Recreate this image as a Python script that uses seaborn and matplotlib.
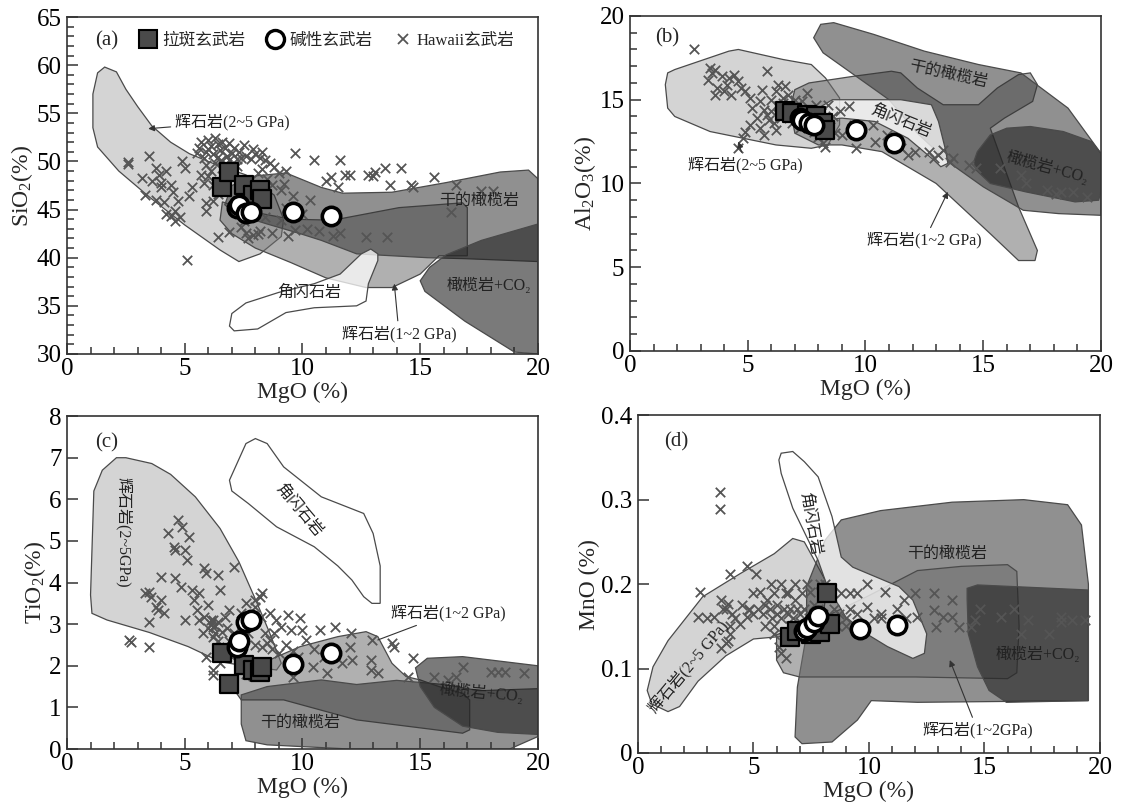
import matplotlib
matplotlib.use('Agg')
import matplotlib.pyplot as plt
from matplotlib.lines import Line2D
from matplotlib.ticker import MultipleLocator, FixedLocator, FixedFormatter
import pandas as pd
import seaborn as sns

sns.set_style('ticks')
FAM = ['Liberation Serif', 'Noto Sans CJK SC', 'DejaVu Sans']
plt.rcParams['font.family'] = FAM
plt.rcParams['mathtext.fontset'] = 'custom'
plt.rcParams['mathtext.rm'] = 'Liberation Serif'
plt.rcParams['mathtext.it'] = 'Liberation Serif:italic'
plt.rcParams['axes.unicode_minus'] = False

# ---------------- sample data ----------------
mgo_tholeiite = [6.6, 6.9, 7.5, 7.9, 8.2, 8.3]
sio2_tholeiite = [47.3, 48.9, 47.5, 46.5, 47.0, 46.1]
al2o3_tholeiite = [14.3, 14.2, 14.1, 14.0, 13.6, 13.2]
tio2_tholeiite = [2.30, 1.57, 2.02, 1.90, 1.86, 1.98]
mno_tholeiite = [0.137, 0.145, 0.141, 0.143, 0.189, 0.153]

mgo_alkali = [7.2, 7.3, 7.6, 7.8, 9.6, 11.2]
sio2_alkali = [45.2, 45.5, 44.6, 44.7, 44.7, 44.3]
al2o3_alkali = [13.9, 13.8, 13.6, 13.5, 13.2, 12.4]
tio2_alkali = [2.45, 2.60, 3.05, 3.10, 2.05, 2.30]
mno_alkali = [0.145, 0.148, 0.155, 0.162, 0.147, 0.151]

hawaii_a = [(2.6,49.9),(2.6,49.7),(3.2,48.3),(3.3,46.5),(3.5,50.6),(3.6,48.0),(3.8,49.3),(3.9,48.6),
            (4.0,47.8),(4.0,47.3),(3.8,46.0),(4.1,45.8),(4.2,44.5),(4.4,44.3),(4.6,44.8),(4.6,43.8),
            (4.8,44.2),(4.7,45.9),(4.5,46.8),(4.9,50.0),(5.0,49.3),(5.2,46.4),(5.3,47.3),(5.1,39.8),
            (4.4,47.5),(4.2,49.0),(5.6,51.4),(5.7,52.0),(5.8,50.4),(5.9,51.0),(6.0,52.2),(6.1,51.6),
            (6.2,50.8),(6.3,52.4),(6.4,51.8),(6.5,51.2),(6.6,52.0),(6.7,51.4),(6.8,50.6),(6.9,51.9),
            (7.0,50.9),(7.1,51.4),(7.2,50.2),(7.3,51.0),(7.4,50.4),(5.9,49.6),(6.1,49.0),(6.3,49.8),
            (6.5,50.0),(6.0,48.5),(5.7,48.6),(5.8,47.8),(6.2,47.5),(6.4,46.6),(6.6,49.3),(6.8,49.6),
            (7.2,49.5),(7.6,50.6),(7.8,50.2),(7.9,51.3),(8.0,50.8),(8.2,50.4),(8.4,50.1),(8.6,49.8),
            (8.8,49.4),(9.0,48.8),(9.3,49.0),(8.3,49.2),(8.1,48.8),(8.5,48.2),(8.7,47.6),(9.1,47.0),
            (9.2,47.7),(5.9,45.7),(6.2,45.9),(5.9,44.8),(6.4,42.1),(6.9,42.7),(7.4,43.2),(7.6,42.6),
            (7.7,42.0),(7.9,42.4),(8.1,42.5),(8.2,42.8),(8.7,42.6),(9.1,43.9),(9.4,42.3),(9.7,42.9),
            (10.2,43.0),(10.7,42.8),(11.3,42.3),(11.6,42.6),(12.7,42.2),(13.6,42.2),(7.5,43.8),(7.3,44.8),
            (8.4,44.2),(9.7,50.9),(9.6,46.4),(10.3,46.0),(10.5,50.1),(11.0,48.0),(11.2,48.4),(11.5,47.3),
            (11.6,50.1),(11.8,48.6),(12.0,48.6),(12.8,48.6),(13.0,48.5),(13.1,48.9),(13.5,49.3),(14.2,49.3),
            (13.7,47.6),(14.6,47.5),(14.7,47.3),(15.6,48.4),(16.3,44.7),(16.5,47.6),(17.6,46.9),(18.1,46.9),
            (9.3,45.2),(10.0,44.5),(5.5,50.9),(6.0,51.3),(6.4,50.5),(6.9,50.1),(7.5,51.7),(8.3,51.0)]

hawaii_b = [(2.7,18.0),(3.4,16.9),(3.5,16.6),(3.3,16.2),(3.6,16.8),(3.9,16.4),(4.2,16.3),(3.7,15.7),
            (4.0,15.5),(4.3,15.3),(4.6,16.1),(4.7,15.7),(4.9,15.5),(5.1,15.1),(5.2,14.5),(5.5,14.9),
            (5.8,16.7),(5.8,14.1),(6.2,15.5),(6.5,15.1),(3.6,15.3),(4.1,15.9),(4.4,16.5),(4.6,12.1),
            (4.8,12.7),(4.9,13.1),(5.1,13.5),(5.5,13.3),(5.7,12.9),(5.4,13.9),(5.7,14.4),(5.9,13.8),
            (6.0,15.0),(6.0,14.3),(6.1,13.6),(6.3,14.6),(6.4,13.9),(6.5,14.8),(6.6,15.8),(6.7,15.3),
            (6.8,14.6),(6.9,13.6),(7.0,15.0),(7.1,14.7),(7.2,13.3),(7.3,14.9),(7.5,15.4),(7.6,14.4),
            (7.8,13.1),(7.9,14.7),(8.0,12.8),(8.1,14.2),(8.2,12.4),(8.3,12.2),(8.5,13.4),(8.6,14.0),
            (8.7,13.0),(8.9,14.3),(9.0,12.9),(9.3,14.6),(9.5,13.5),(9.6,12.1),(10.3,13.5),(10.4,12.5),
            (10.9,12.9),(11.5,12.1),(11.8,11.7),(12.1,11.9),(12.7,11.9),(13.1,11.7),(13.6,11.3),(13.7,11.5),
            (14.4,11.1),(14.7,10.9),(15.7,10.9),(16.6,10.5),(16.8,10.0),(17.7,9.6),(18.1,9.4),(18.3,9.5),
            (18.8,9.5),(19.4,9.2),(6.2,13.2),(5.6,15.6),(6.3,15.9),(7.7,13.9),(8.4,14.7),(12.9,11.5),
            (13.3,12.0)]

hawaii_c = [(2.65,2.62),(2.7,2.58),(3.5,2.46),(3.3,3.74),(3.5,3.78),(3.56,3.66),(3.5,3.06),(3.8,3.42),
            (3.86,3.34),(4.0,4.14),(4.1,3.26),(4.0,3.58),(4.3,5.18),(4.55,4.86),(4.6,4.78),(4.7,5.5),
            (4.9,5.34),(4.6,4.1),(4.85,3.9),(5.0,4.78),(5.1,4.54),(5.2,5.1),(5.0,3.1),(5.3,3.82),
            (5.4,3.58),(5.6,3.74),(5.8,4.34),(5.9,4.22),(6.0,3.46),(5.5,3.34),(5.6,3.1),(5.8,3.18),
            (6.1,3.1),(6.2,2.94),(6.3,2.78),(6.4,4.18),(6.5,3.82),(5.76,2.78),(5.9,2.22),(6.2,1.9),
            (6.2,1.78),(6.5,2.06),(6.8,2.46),(6.7,3.18),(6.9,3.34),(7.1,4.38),(7.1,2.78),(7.4,3.26),
            (7.6,3.5),(7.7,2.78),(8.0,3.42),(8.0,3.58),(8.2,3.66),(8.3,3.74),(8.26,3.18),(8.4,2.78),
            (8.6,2.62),(8.6,3.26),(8.8,2.78),(8.86,3.1),(9.1,2.94),(9.4,3.22),(9.5,2.86),(9.9,3.14),
            (10.0,2.86),(9.6,1.74),(10.15,2.62),(10.45,1.98),(10.76,2.86),(10.9,2.22),(11.06,1.82),(11.4,2.94),
            (11.7,2.06),(12.0,2.46),(12.05,2.78),(12.1,2.14),(12.9,2.14),(12.9,1.9),(12.95,2.62),(13.2,1.82),
            (13.8,2.54),(13.9,2.46),(14.7,2.18),(14.5,1.74),(15.6,1.74),(16.2,1.66),(16.5,1.74),(16.8,1.98),
            (18.0,1.86),(18.3,1.86),(18.6,1.86),(19.4,1.82),(6.0,2.9),(6.1,3.0),(6.2,3.1),(6.3,2.95),
            (6.4,3.05),(6.2,2.7),(6.4,2.6),(6.6,2.8),(6.8,2.9),(6.9,2.6),(7.0,2.2),(7.2,2.4),
            (7.3,2.0),(7.6,1.8),(7.9,1.75),(8.0,2.5),(8.3,2.45),(8.5,2.55),(8.7,2.4),(9.0,2.3),
            (9.3,2.5),(9.6,2.35),(9.8,2.2),(10.5,2.4)]

hawaii_d = [(3.54,0.309),(3.54,0.289),(2.7,0.191),(2.6,0.161),(4.0,0.212),(4.7,0.222),(5.1,0.212),(3.3,0.161),
            (3.6,0.181),(3.7,0.171),(3.9,0.177),(4.05,0.165),(4.0,0.141),(3.6,0.124),(3.9,0.133),(4.4,0.153),
            (4.7,0.161),(4.8,0.169),(5.0,0.189),(5.3,0.191),(5.6,0.181),(5.75,0.200),(5.9,0.189),(6.2,0.200),
            (6.4,0.189),(5.9,0.141),(6.1,0.126),(6.2,0.118),(6.4,0.112),(6.8,0.181),(7.1,0.189),(7.45,0.191),
            (8.1,0.200),(8.4,0.191),(8.8,0.189),(9.2,0.189),(9.5,0.189),(9.9,0.200),(9.9,0.173),(10.5,0.165),
            (10.7,0.191),(11.5,0.181),(12.0,0.189),(12.1,0.161),(12.8,0.189),(12.8,0.169),(12.9,0.149),(13.2,0.161),
            (13.6,0.181),(13.6,0.161),(13.9,0.149),(14.4,0.149),(14.6,0.157),(14.8,0.171),(15.7,0.161),(16.3,0.171),
            (16.6,0.141),(16.9,0.157),(17.8,0.141),(18.3,0.155),(18.3,0.161),(18.8,0.157),(19.35,0.157),
            (4.5,0.175),(4.8,0.170),(5.0,0.165),(5.2,0.170),(5.4,0.165),(5.5,0.175),(5.7,0.170),(5.8,0.160),
            (6.0,0.175),(6.0,0.165),(6.2,0.160),(6.3,0.170),(6.5,0.165),(6.6,0.170),(6.7,0.160),(6.9,0.170),
            (7.0,0.165),(7.2,0.170),(7.4,0.160),(7.6,0.175),(7.8,0.170),(8.0,0.165),(8.2,0.160),(8.5,0.170),
            (8.7,0.165),(9.0,0.160),(9.2,0.170),(9.5,0.165),(10.2,0.160),(10.5,0.160),(11.2,0.170),(11.6,0.160),
            (3.0,0.160),(3.8,0.170),(4.2,0.160),(4.0,0.150),(5.5,0.150),(5.9,0.150),(6.3,0.140),(6.6,0.150),
            (7.0,0.155),(8.6,0.150),(9.0,0.150),(3.8,0.130),(6.8,0.200),(7.3,0.200),(7.9,0.200),(6.5,0.190)]

# ---------------- field outlines (MgO, oxide) ----------------
a_px25 = [(1.6,59.8),(2.1,59.3),(2.5,57.5),(3.0,55.7),(3.6,53.7),(4.4,52.0),(5.2,50.8),(6.2,49.8),(7.6,48.6),
          (8.8,46.5),(9.2,44.0),(9.1,42.2),(8.2,40.4),(7.3,39.6),(6.5,40.8),(5.0,43.4),(3.5,46.3),(2.2,49.0),
          (1.3,51.5),(1.1,53.5),(1.1,57.0),(1.3,59.2)]
a_px12 = [(6.6,45.8),(7.8,44.8),(9.5,44.0),(11.3,43.9),(14.1,45.2),(16.8,45.7),(17.0,45.2),(17.0,40.2),
          (15.8,40.2),(15.0,38.3),(13.8,36.9),(12.7,36.9),(11.0,37.9),(9.5,39.5),(8.0,41.0),(7.0,42.5),(6.5,43.9)]
a_dry = [(7.0,47.5),(8.0,48.5),(9.3,48.8),(10.8,47.3),(11.7,46.7),(13.8,46.8),(16.1,47.8),(18.4,48.9),
         (19.6,49.1),(20.0,48.2),(20.0,39.6),(16.9,39.9),(15.3,40.0),(12.3,40.4),(10.8,41.8),(9.9,42.5),
         (8.5,43.5),(7.2,44.5),(6.7,45.5)]
a_co2 = [(15.0,37.6),(15.4,39.0),(16.1,40.3),(17.6,41.8),(20.0,43.5),(20.0,30.0),(19.0,30.2),(16.9,33.4),(15.2,36.5)]
a_hbl = [(7.0,34.2),(6.9,32.9),(7.1,32.4),(8.1,32.6),(9.3,34.3),(10.5,34.8),(12.3,35.0),(12.7,35.5),(12.8,37.3),
         (13.2,39.7),(13.2,40.4),(12.9,40.9),(12.5,40.4),(11.6,38.3),(10.5,37.3),(9.0,36.4),(7.6,35.3)]

b_px25 = [(1.9,16.8),(4.2,17.9),(4.6,18.0),(6.5,17.4),(7.7,17.1),(8.3,16.3),(8.9,15.1),(8.9,13.5),(8.4,12.3),
          (7.7,12.1),(6.2,12.3),(3.4,13.1),(1.9,14.0),(1.6,14.5),(1.5,15.9),(1.6,16.6)]
b_dry = [(7.8,18.7),(8.1,19.5),(8.65,19.6),(10.35,18.9),(12.5,17.9),(14.8,17.1),(16.6,16.6),(18.6,14.5),
         (20.0,11.8),(20.0,8.1),(18.2,8.2),(16.7,8.4),(15.0,9.8),(13.5,11.3),(12.2,13.0),(11.0,15.0),
         (9.5,16.5),(8.2,17.8)]
b_px12 = [(6.8,14.5),(7.0,15.6),(7.6,16.0),(9.5,16.4),(11.1,16.7),(11.5,16.6),(12.2,15.7),(13.3,14.7),
          (14.8,14.7),(15.6,15.7),(16.5,16.5),(17.0,16.6),(17.3,15.9),(17.1,14.9),(15.9,13.9),(15.3,13.3),
          (16.5,8.6),(17.3,6.0),(17.2,5.4),(16.5,5.4),(15.3,7.0),(13.0,10.0),(10.7,11.9),(9.0,12.3),
          (8.0,12.3),(7.0,13.0)]
b_co2 = [(14.75,11.9),(15.3,12.9),(16.0,13.3),(17.0,13.4),(18.4,13.1),(19.6,12.5),(20.0,11.8),(20.0,9.5),
         (19.9,9.0),(18.9,8.9),(16.8,9.5),(15.3,10.0),(14.7,10.8),(14.6,11.3)]
b_hbl = [(8.0,14.5),(8.6,15.0),(11.5,15.0),(12.8,14.7),(13.1,13.7),(13.4,12.0),(13.5,11.2),(13.2,11.0),
         (12.9,11.4),(11.8,12.7),(10.4,13.7),(9.0,13.9),(8.2,13.8)]

c_px25 = [(2.1,7.0),(2.5,7.0),(3.6,6.86),(4.4,6.6),(5.45,6.06),(6.5,5.3),(7.3,4.5),(8.0,3.6),(8.6,2.8),
          (9.1,2.06),(8.9,1.9),(7.7,1.98),(6.5,2.1),(5.15,2.46),(3.5,2.8),(1.7,3.1),(1.06,3.26),(1.0,3.7),
          (1.14,6.2),(1.5,6.7)]
c_px12 = [(7.0,1.5),(7.2,2.0),(8.6,2.14),(9.9,2.46),(11.5,2.7),(12.7,2.82),(13.2,2.7),(13.8,2.06),
          (14.4,1.74),(15.0,1.66),(15.8,1.5),(16.8,1.34),(17.1,1.18),(17.1,0.46),(16.8,0.38),(12.3,0.7),
          (9.2,1.18),(7.4,1.18)]
c_dry = [(7.4,1.3),(8.5,1.5),(10.8,1.66),(12.3,1.55),(14.0,1.65),(16.0,1.55),(17.5,1.4),(20.0,1.45),
         (20.0,0.3),(18.8,0.0),(12.0,0.0),(8.5,0.1),(7.6,0.2),(7.4,0.6)]
c_co2 = [(14.8,1.95),(15.3,2.18),(16.8,2.22),(20.0,2.0),(20.0,0.35),(18.3,0.4),(16.8,0.55),(15.6,1.0),(15.0,1.5)]
c_hbl = [(7.0,6.2),(6.9,6.46),(7.6,7.34),(8.0,7.46),(8.5,7.34),(9.2,6.78),(10.8,6.06),(12.6,5.66),(13.0,5.18),
         (13.3,4.4),(13.3,3.5),(12.95,3.5),(12.6,3.66),(12.1,4.06),(11.5,4.4),(10.5,4.86),(8.9,5.34),(7.7,5.9)]

d_px25 = [(1.3,0.049),(0.6,0.058),(0.4,0.074),(0.65,0.102),(1.3,0.133),(2.8,0.185),(4.4,0.212),(5.9,0.236),
          (6.7,0.254),(7.2,0.25),(7.6,0.23),(8.2,0.2),(8.0,0.16),(7.2,0.14),(6.2,0.138),(5.0,0.135),
          (3.8,0.115),(2.6,0.085),(1.8,0.055)]
d_dry = [(8.8,0.276),(10.5,0.287),(13.6,0.297),(16.7,0.300),(18.6,0.294),(19.2,0.27),(19.5,0.2),(19.5,0.062),
         (12.1,0.060),(10.1,0.062),(9.5,0.039),(8.4,0.013),(7.1,0.011),(6.8,0.019),(6.9,0.078),(7.3,0.141),
         (7.3,0.197),(8.1,0.252)]
d_px12 = [(6.0,0.14),(6.0,0.11),(6.3,0.095),(7.0,0.090),(12.0,0.090),(16.0,0.088),(16.4,0.095),(16.5,0.15),
          (16.4,0.215),(16.0,0.223),(14.0,0.221),(12.1,0.216),(9.9,0.185),(8.0,0.16),(7.0,0.15)]
d_co2 = [(14.25,0.195),(14.7,0.199),(19.5,0.193),(19.5,0.062),(15.95,0.06),(15.2,0.074),(14.7,0.102),
         (14.3,0.141),(14.25,0.182)]
d_hbl = [(6.2,0.355),(6.7,0.357),(7.2,0.345),(7.8,0.327),(8.4,0.28),(8.8,0.232),(9.3,0.22),(11.3,0.197),
         (11.9,0.181),(12.5,0.141),(12.4,0.118),(11.9,0.112),(10.8,0.126),(9.9,0.141),(9.0,0.161),(8.2,0.197),
         (7.8,0.228),(7.3,0.256),(6.7,0.29),(6.2,0.331),(6.1,0.347)]

d_ytick_labels = ['0', '0.1', '0.2', '0.3', '0.4']
legend_labels = ['拉斑玄武岩', '碱性玄武岩', 'Hawaii玄武岩']

# ---------------- styles ----------------
FILL = {
    'px25': (171/255, 171/255, 171/255, 0.50),
    'px12': (111/255, 111/255, 111/255, 0.55),
    'dry':  (53/255, 53/255, 53/255, 0.55),
    'co2':  (33/255, 33/255, 33/255, 0.60),
    'hbl':  (1.0, 1.0, 1.0, 0.75),
}
EDGE = '#4a4a4a'
TXT = '#222222'

fig = plt.figure(figsize=(11.24, 8.10), dpi=100)
ax_a = fig.add_axes([0.0596, 0.563, 0.419, 0.416])
ax_b = fig.add_axes([0.5605, 0.5667, 0.419, 0.4136])
ax_c = fig.add_axes([0.0596, 0.0753, 0.419, 0.411])
ax_d = fig.add_axes([0.5676, 0.0704, 0.411, 0.417])


def draw_fields(ax, fields):
    for key, poly in fields:
        xs = [p[0] for p in poly]
        ys = [p[1] for p in poly]
        ax.fill(xs, ys, facecolor=FILL[key], edgecolor=EDGE, lw=0.9, zorder=1)


def draw_points(ax, hawaii, th_x, th_y, al_x, al_y):
    hw = pd.DataFrame(hawaii, columns=['MgO', 'oxide'])
    sns.scatterplot(data=hw, x='MgO', y='oxide', marker='x', color='#555555', s=46,
                    linewidth=1.3, ax=ax, zorder=3, legend=False)
    sns.scatterplot(x=th_x, y=th_y, marker='s', s=165, color='#4a4a4a', edgecolor='black',
                    linewidth=1.6, ax=ax, zorder=4, legend=False)
    sns.scatterplot(x=al_x, y=al_y, marker='o', s=175, color='white', edgecolor='black',
                    linewidth=2.6, ax=ax, zorder=5, legend=False)


def style_axis(ax, ylim, ymaj, ymin, ylabel):
    ax.set_xlim(0, 20)
    ax.set_ylim(*ylim)
    ax.xaxis.set_major_locator(MultipleLocator(5))
    ax.xaxis.set_minor_locator(MultipleLocator(1))
    ax.yaxis.set_major_locator(MultipleLocator(ymaj))
    if ymin:
        ax.yaxis.set_minor_locator(MultipleLocator(ymin))
    else:
        ax.yaxis.set_minor_locator(FixedLocator([]))
    ax.tick_params(which='both', direction='in', top=False, right=False, colors='#333333',
                   labelcolor='black', labelsize=18, width=1.1)
    ax.tick_params(axis='x', which='both', pad=3)
    ax.tick_params(axis='y', which='both', pad=4)
    ax.tick_params(which='major', length=8)
    ax.tick_params(which='minor', length=5)
    for sp in ax.spines.values():
        sp.set_color('#333333')
        sp.set_linewidth(1.2)
        sp.set_visible(True)
    ax.set_xlabel('MgO (%)', fontsize=17, labelpad=1)
    ax.set_ylabel(ylabel, fontsize=17, labelpad=1)


arrow_kw = dict(arrowstyle='-|>', color='#333333', lw=0.8, mutation_scale=9, shrinkA=1, shrinkB=0)
line_kw = dict(arrowstyle='-', color='#333333', lw=0.8, shrinkA=1, shrinkB=0)
fs = 11.5

# ---- (a) ----
ax = ax_a
draw_fields(ax, [('px25', a_px25), ('px12', a_px12), ('dry', a_dry), ('co2', a_co2), ('hbl', a_hbl)])
draw_points(ax, hawaii_a, mgo_tholeiite, sio2_tholeiite, mgo_alkali, sio2_alkali)
style_axis(ax, (30, 65), 5, 1, 'SiO$_2$(%)')
ax.text(0.085, 0.93, '(a)', transform=ax.transAxes, fontsize=15, ha='center', va='center')
handles = [Line2D([], [], ls='', marker='s', markersize=13, markerfacecolor='#4a4a4a',
                  markeredgecolor='black', markeredgewidth=1.5),
           Line2D([], [], ls='', marker='o', markersize=13, markerfacecolor='white',
                  markeredgecolor='black', markeredgewidth=2.4),
           Line2D([], [], ls='', marker='x', markersize=7, color='#555555', markeredgewidth=1.3)]
ax.legend(handles, legend_labels, ncol=3, loc='center left', bbox_to_anchor=(0.14, 0.93),
          frameon=False, fontsize=12, handlelength=1.0, handletextpad=0.35, columnspacing=1.3,
          borderaxespad=0)
ax.text(17.5, 45.9, '干的橄榄岩', fontsize=fs, ha='center', va='center', color=TXT, zorder=6)
ax.text(10.3, 36.4, '角闪石岩', fontsize=fs, ha='center', va='center', color=TXT, zorder=6)
ax.text(17.9, 37.1, '橄榄岩+CO₂', fontsize=fs, ha='center', va='center', color=TXT, zorder=6)
ax.annotate('辉石岩(2~5 GPa)', xy=(3.45, 53.4), xytext=(4.6, 54.1), fontsize=fs, ha='left',
            va='center', color=TXT, arrowprops=arrow_kw, zorder=6)
ax.annotate('辉石岩(1~2 GPa)', xy=(13.9, 37.3), xytext=(14.1, 32.1), fontsize=fs, ha='center',
            va='center', color=TXT, arrowprops=arrow_kw, zorder=6)

# ---- (b) ----
ax = ax_b
draw_fields(ax, [('px25', b_px25), ('px12', b_px12), ('dry', b_dry), ('co2', b_co2), ('hbl', b_hbl)])
draw_points(ax, hawaii_b, mgo_tholeiite, al2o3_tholeiite, mgo_alkali, al2o3_alkali)
style_axis(ax, (0, 20), 5, 1, 'Al$_2$O$_3$(%)')
ax.text(0.08, 0.934, '(b)', transform=ax.transAxes, fontsize=15, ha='center', va='center')
ax.text(13.5, 16.5, '干的橄榄岩', fontsize=fs, ha='center', va='center', rotation=-12, color=TXT, zorder=6)
ax.text(11.5, 13.7, '角闪石岩', fontsize=fs, ha='center', va='center', rotation=-22, color=TXT, zorder=6)
ax.text(17.7, 10.9, '橄榄岩+CO₂', fontsize=fs, ha='center', va='center', rotation=-15, color=TXT, zorder=6)
ax.annotate('辉石岩(1~2 GPa)', xy=(13.5, 9.5), xytext=(12.5, 6.6), fontsize=fs, ha='center',
            va='center', color=TXT, arrowprops=arrow_kw, zorder=6)
ax.annotate('辉石岩(2~5 GPa)', xy=(4.6, 12.5), xytext=(4.9, 11.1), fontsize=fs, ha='center',
            va='center', color=TXT, arrowprops=arrow_kw, zorder=6)

# ---- (c) ----
ax = ax_c
draw_fields(ax, [('px25', c_px25), ('px12', c_px12), ('dry', c_dry), ('co2', c_co2), ('hbl', c_hbl)])
draw_points(ax, hawaii_c, mgo_tholeiite, tio2_tholeiite, mgo_alkali, tio2_alkali)
style_axis(ax, (0, 8), 1, None, 'TiO$_2$(%)')
ax.text(0.085, 0.92, '(c)', transform=ax.transAxes, fontsize=15, ha='center', va='center')
ax.text(2.4, 5.2, '辉石岩(2~5GPa)', fontsize=fs, ha='center', va='center', rotation=-90, color=TXT, zorder=6)
ax.text(9.85, 5.74, '角闪石岩', fontsize=fs, ha='center', va='center', rotation=-50, color=TXT, zorder=6)
ax.text(9.9, 0.62, '干的橄榄岩', fontsize=fs, ha='center', va='center', color=TXT, zorder=6)
ax.text(17.6, 1.34, '橄榄岩+CO₂', fontsize=fs, ha='center', va='center', rotation=-5, color=TXT, zorder=6)
ax.annotate('辉石岩(1~2 GPa)', xy=(13.2, 2.62), xytext=(16.2, 3.26), fontsize=fs, ha='center',
            va='center', color=TXT, arrowprops=line_kw, zorder=6)

# ---- (d) ----
ax = ax_d
draw_fields(ax, [('px25', d_px25), ('dry', d_dry), ('px12', d_px12), ('co2', d_co2), ('hbl', d_hbl)])
draw_points(ax, hawaii_d, mgo_tholeiite, mno_tholeiite, mgo_alkali, mno_alkali)
style_axis(ax, (0, 0.4), 0.1, None, 'MnO (%)')
ax.yaxis.set_major_locator(FixedLocator([0, 0.1, 0.2, 0.3, 0.4]))
ax.yaxis.set_major_formatter(FixedFormatter(d_ytick_labels))
ax.text(0.082, 0.92, '(d)', transform=ax.transAxes, fontsize=15, ha='center', va='center')
ax.text(7.45, 0.272, '角闪石岩', fontsize=fs, ha='center', va='center', rotation=-80, color=TXT, zorder=6)
ax.text(13.4, 0.236, '干的橄榄岩', fontsize=fs, ha='center', va='center', color=TXT, zorder=6)
ax.text(17.3, 0.116, '橄榄岩+CO₂', fontsize=fs, ha='center', va='center', color=TXT, zorder=6)
ax.text(2.2, 0.102, '辉石岩(2~5 GPa)', fontsize=fs, ha='center', va='center', rotation=50, color=TXT, zorder=6)
ax.annotate('辉石岩(1~2GPa)', xy=(13.5, 0.11), xytext=(14.7, 0.027), fontsize=fs, ha='center',
            va='center', color=TXT, arrowprops=arrow_kw, zorder=6)

fig.savefig('out.png', dpi=100, facecolor='white')
